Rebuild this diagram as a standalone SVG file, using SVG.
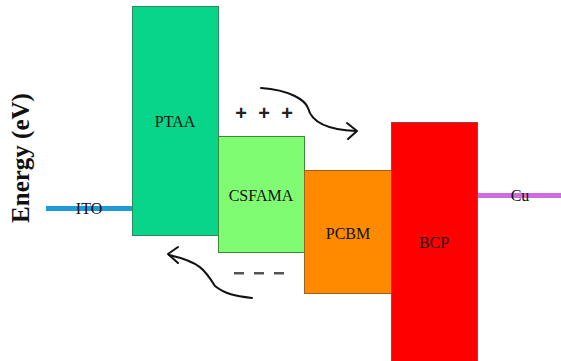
<svg xmlns="http://www.w3.org/2000/svg" width="561" height="361" viewBox="0 0 561 361">
<defs>
<style>
.lbl{font-family:"Liberation Serif","Times New Roman",serif;font-size:16px;fill:#111;text-anchor:middle}
.box{stroke-width:1}
.sign{font-family:"Liberation Sans",Arial,sans-serif;font-size:20px;font-weight:bold;fill:#222;text-anchor:middle}
.curve{fill:none;stroke:#111;stroke-width:2;stroke-linecap:round;stroke-linejoin:round}
</style>
</defs>
<rect width="561" height="361" fill="#fff"/>
<text transform="translate(29,158) rotate(-90)" text-anchor="middle" font-family="Liberation Serif,'Times New Roman',serif" font-size="25" font-weight="bold" fill="#111">Energy (eV)</text>
<g id="ITO">
<rect x="46" y="206" width="86" height="5" fill="#1e9ad8"/>
<text class="lbl" x="89" y="214" font-size="14">ITO</text>
</g>
<g id="Cu">
<rect x="477" y="193" width="84" height="5" fill="#cc6ee0"/>
<text class="lbl" x="520" y="201" font-size="14">Cu</text>
</g>
<g id="PTAA">
<rect class="box" x="132.5" y="6.5" width="86" height="229" fill="#08d48a" stroke="#2a8a60"/>
<text class="lbl" x="175" y="127">PTAA</text>
</g>
<g id="CSFAMA">
<rect class="box" x="218.5" y="136.5" width="86" height="116" fill="#80fc72" stroke="#3a8a3a"/>
<text class="lbl" x="261" y="201">CSFAMA</text>
</g>
<g id="PCBM">
<rect class="box" x="304.5" y="170.5" width="87" height="123" fill="#ff8a00" stroke="#a06020"/>
<text class="lbl" x="348" y="239">PCBM</text>
</g>
<g id="BCP">
<rect class="box" x="391.5" y="122.5" width="86" height="240" fill="#ff0000" stroke="#a04040"/>
<text class="lbl" x="434" y="248">BCP</text>
</g>
<g id="connectors">
<path class="curve" d="M261,88 C290,90 305,100 308,108 C312,124 330,130 356,131"/>
<path class="curve" d="M347,123 L357,131 L348,139"/>
<path class="curve" d="M252,298 C235,296 225,294 215,286 C205,270 200,262 169,255"/>
<path class="curve" d="M178,247 L168,254 L178,263"/>
</g>
<g class="sign">
<text x="241" y="120">+</text>
<text x="264" y="120">+</text>
<text x="287" y="120">+</text>
</g>
<g fill="#555">
<rect x="234" y="272" width="10" height="2.5"/>
<rect x="254" y="272" width="10" height="2.5"/>
<rect x="274" y="272" width="10" height="2.5"/>
</g>
</svg>
